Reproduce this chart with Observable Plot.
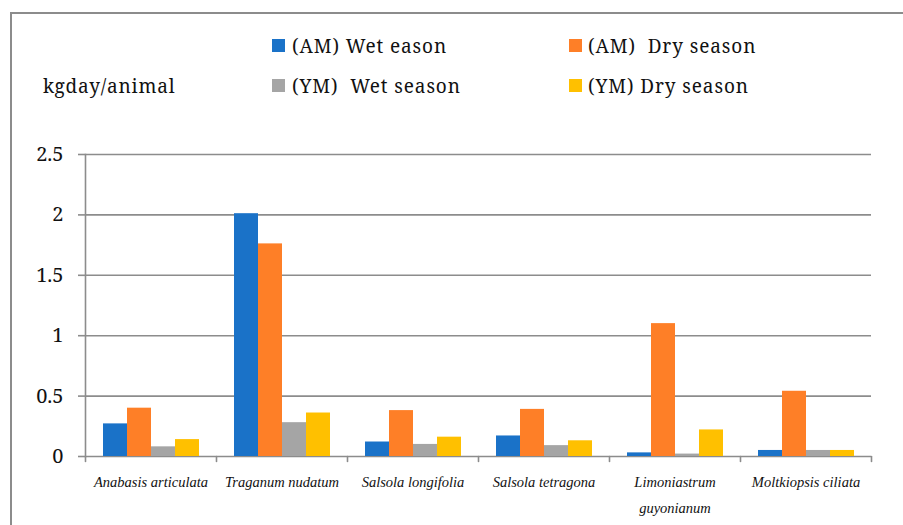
<!DOCTYPE html>
<html>
<head>
<meta charset="utf-8">
<script src="https://cdn.jsdelivr.net/npm/d3@7"></script>
<script src="https://cdn.jsdelivr.net/npm/@observablehq/plot@0.6"></script>
<style>
  html, body { margin: 0; padding: 0; background: #fff; overflow: hidden; }
  #wrap { position: relative; width: 903px; height: 525px; }
  #border { position: absolute; left: 10px; top: 12px; width: 1000px; height: 600px;
            border-top: 2px solid #8c8c8c; border-left: 2px solid #8c8c8c; }
  .leg { position: absolute; font-family: "Noto Serif", serif; font-size: 19px; line-height: 22px;
         letter-spacing: 0.9px; color: #111; white-space: pre; }
  .sw { position: absolute; width: 13px; height: 13px; }
  #ylab { position: absolute; left: 43px; top: 75px; font-family: "Noto Serif", serif; font-size: 19px;
          letter-spacing: 0.8px; line-height: 22px; color: #111; }
  #chart { position: absolute; left: 0; top: 120px; }
</style>
</head>
<body>
<div id="wrap">
  <div id="border"></div>
  <div id="legend"></div>
  <div id="ylab"></div>
  <div id="chart"></div>
</div>
<script>
const categories = ["Anabasis articulata", "Traganum nudatum", "Salsola longifolia", "Salsola tetragona", "Limoniastrum guyonianum", "Moltkiopsis ciliata"];
const categoryTickLabels = ["Anabasis articulata", "Traganum nudatum", "Salsola longifolia", "Salsola tetragona", "Limoniastrum\nguyonianum", "Moltkiopsis ciliata"];
const seriesNames = ["(AM) Wet eason", "(AM)  Dry season", "(YM)  Wet season", "(YM) Dry season"];
const seriesColors = ["#1a72c8", "#fe7f27", "#a5a5a5", "#ffc000"];
const amWet = [0.27, 2.01, 0.12, 0.17, 0.03, 0.05];
const amDry = [0.40, 1.76, 0.38, 0.39, 1.10, 0.54];
const ymWet = [0.08, 0.28, 0.10, 0.09, 0.02, 0.05];
const ymDry = [0.14, 0.36, 0.16, 0.13, 0.22, 0.05];
const yTicks = [0, 0.5, 1, 1.5, 2, 2.5];
const yLabel = "kgday/animal";

const seriesValues = [amWet, amDry, ymWet, ymDry];
const data = [];
categories.forEach((c, i) => {
  seriesNames.forEach((s, j) => data.push({cat: c, series: s, value: seriesValues[j][i]}));
});

// legend
const legend = document.getElementById("legend");
const legPos = [[272, 292, 39, 35], [569, 588, 39, 35], [272, 292, 79, 75], [569, 588, 79, 75]];
seriesNames.forEach((s, j) => {
  const [sx, tx, sy, ty] = legPos[j];
  const sw = document.createElement("div");
  sw.className = "sw";
  sw.style.left = sx + "px"; sw.style.top = sy + "px"; sw.style.background = seriesColors[j];
  legend.appendChild(sw);
  const t = document.createElement("div");
  t.className = "leg";
  t.style.left = tx + "px"; t.style.top = ty + "px";
  t.textContent = s;
  legend.appendChild(t);
});
document.getElementById("ylab").textContent = yLabel;

const gray = "#8c8c8c";
const tickShape = {draw(ctx, l) { ctx.moveTo(0, 0); ctx.lineTo(0, -l); }};

const chart = Plot.plot({
  width: 903,
  height: 405,
  marginTop: 34,
  marginBottom: 69,
  marginLeft: 83,
  marginRight: 30,
  style: {background: "transparent"},
  fx: {domain: categories, padding: 0},
  x: {domain: seriesNames, paddingInner: 0, paddingOuter: 0.72, axis: null},
  y: {domain: [0, 2.5]},
  color: {domain: seriesNames, range: seriesColors},
  marks: [
    Plot.ruleY(yTicks, {stroke: gray, strokeWidth: 1.6}),
    Plot.frame({anchor: "left", facetAnchor: "left", stroke: gray, strokeWidth: 1.6}),
    Plot.vector([0], {frameAnchor: "bottom-left", length: 5, rotate: 180, anchor: "start", shape: tickShape, stroke: gray, strokeWidth: 1.6}),
    Plot.vector([0], {frameAnchor: "bottom-right", facetAnchor: "right", length: 5, rotate: 180, anchor: "start", shape: tickShape, stroke: gray, strokeWidth: 1.6}),
    Plot.barY(data, {fx: "cat", x: "series", y: "value", fill: "series", inset: 0}),
    Plot.axisY({ticks: yTicks, tickSize: 7, tickPadding: 15, tickFormat: d => String(d),
      stroke: gray, strokeWidth: 1.6, fontSize: 20, fontFamily: "Noto Serif", fill: "#111", label: null}),
    Plot.axisFx({anchor: "bottom", tickSize: 0, tickPadding: 12, label: null,
      tickFormat: d => categoryTickLabels[categories.indexOf(d)],
      fontSize: 14.5, fontFamily: "Liberation Serif", fontStyle: "italic", fill: "#111", lineHeight: 1.8})
  ]
});
document.getElementById("chart").appendChild(chart);
</script>
</body>
</html>
